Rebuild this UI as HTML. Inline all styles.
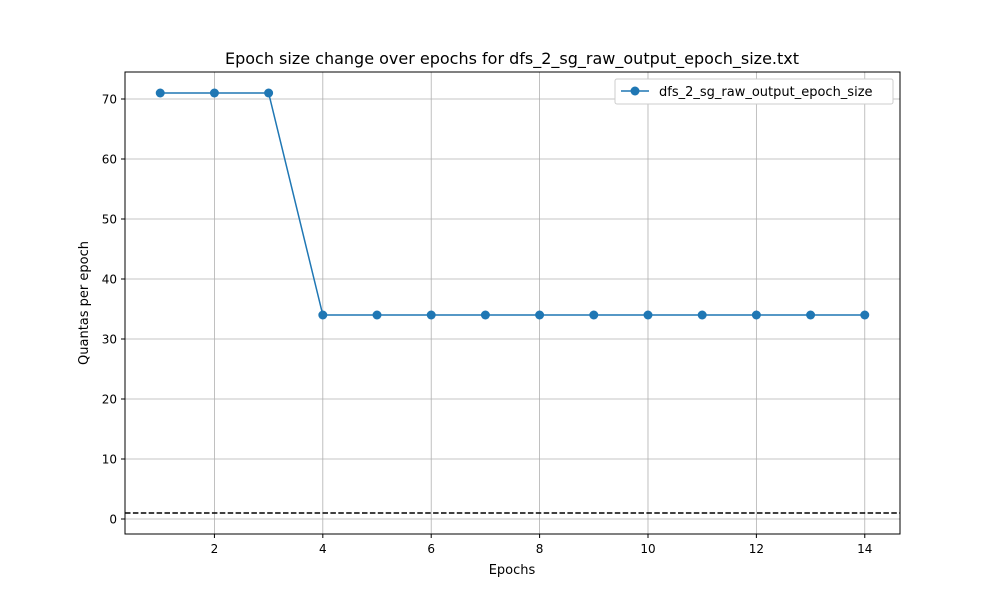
<!DOCTYPE html>
<html><head><meta charset="utf-8"><style>
body{margin:0;background:#fff;font-family:"Liberation Sans","DejaVu Sans",sans-serif;}
svg text{font-family:"DejaVu Sans","Liberation Sans",sans-serif;}
</style></head><body>
<svg id="chart" width="1000" height="600" xmlns="http://www.w3.org/2000/svg">
<rect width="1000" height="600" fill="#fff"/>
<text x="512" y="64" font-size="16" text-anchor="middle">Epoch size change over epochs for dfs_2_sg_raw_output_epoch_size.txt</text>
<g id="grid"></g>
<g id="ticks"></g>
<line x1="125" y1="513" x2="900" y2="513" stroke="#000" stroke-width="1.5" stroke-dasharray="5.5,2.4"/>
<g id="series"></g>
<rect x="125" y="72" width="775" height="462" fill="none" stroke="#000" stroke-width="1"/>
<text x="512" y="574" font-size="13" text-anchor="middle">Epochs</text>
<text transform="translate(88,303) rotate(-90)" font-size="13" text-anchor="middle">Quantas per epoch</text>
<g>
<rect x="615" y="79" width="278" height="25" fill="#fff" stroke="#ccc" rx="2"/>
<line x1="621" y1="91" x2="649" y2="91" stroke="#1f77b4" stroke-width="1.5"/>
<circle cx="635" cy="91" r="4.5" fill="#1f77b4"/>
<text x="659" y="96" font-size="13">dfs_2_sg_raw_output_epoch_size</text>
</g>
</svg>
<script>
const epochs=[1,2,3,4,5,6,7,8,9,10,11,12,13,14];
const sizes=[71,71,71,34,34,34,34,34,34,34,34,34,34,34];
const xTicks=[2,4,6,8,10,12,14];
const yTicks=[0,10,20,30,40,50,60,70];
const NS="http://www.w3.org/2000/svg";
const xs=v=>125+(v-0.35)/(14.65-0.35)*775;
const ys=v=>534-(v+2.5)/(74.5+2.5)*462;
function mk(t,a,p){const e=document.createElementNS(NS,t);for(const k in a)e.setAttribute(k,a[k]);p.appendChild(e);return e;}
const g=document.getElementById('grid'),tk=document.getElementById('ticks'),s=document.getElementById('series');
xTicks.forEach(v=>{const x=xs(v);
const l=mk('line',{x1:x,y1:72,x2:x,y2:534,stroke:'#b0b0b0','stroke-width':0.8},g);


mk('line',{x1:x,y1:534,x2:x,y2:538,stroke:'#000'},tk);
const t=mk('text',{x:x,y:553,'font-size':12,'text-anchor':'middle'},tk);t.textContent=v;

});
yTicks.forEach(v=>{const y=ys(v);
const l=mk('line',{x1:125,y1:y,x2:900,y2:y,stroke:'#b0b0b0','stroke-width':0.8},g);


mk('line',{x1:121,y1:y,x2:125,y2:y,stroke:'#000'},tk);
const t=mk('text',{x:117,y:y+4.5,'font-size':12,'text-anchor':'end'},tk);t.textContent=v;

});
const pl=mk('polyline',{points:epochs.map((e,i)=>xs(e)+','+ys(sizes[i])).join(' '),fill:'none',stroke:'#1f77b4','stroke-width':1.5},s);


epochs.forEach((e,i)=>{const c=mk('circle',{cx:xs(e),cy:ys(sizes[i]),r:4.5,fill:'#1f77b4'},s);

});
</script>
</body></html>
